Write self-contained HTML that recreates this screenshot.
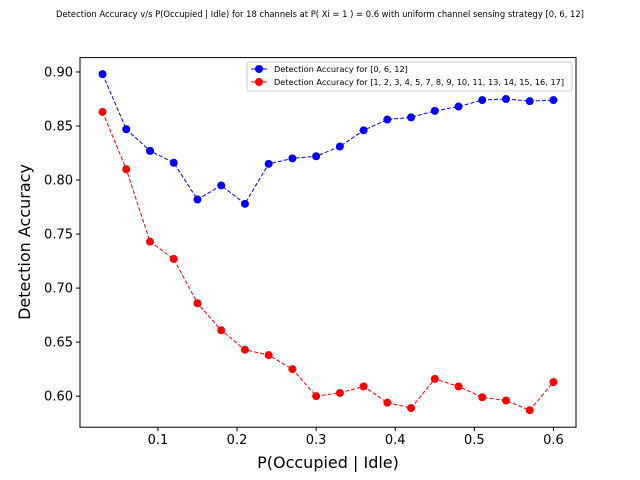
<!DOCTYPE html>
<html><head><meta charset="utf-8"><style>
body{margin:0;background:#fff;}
svg{display:block;font-family:"DejaVu Sans","Liberation Sans",sans-serif;}
</style></head><body>
<svg id="chart" width="640" height="480" viewBox="0 0 640 480">
<text x="320" y="17" font-size="8.4" text-anchor="middle">Detection Accuracy v/s P(Occupied | Idle) for 18 channels at P( Xi = 1 ) = 0.6 with uniform channel sensing strategy [0, 6, 12]</text>
<rect x="80" y="57.6" width="496" height="369.6" fill="none" stroke="#000" stroke-width="1"/>
<g id="xticks"></g><g id="yticks"></g><g id="series"></g>
<text x="328" y="468" font-size="16" text-anchor="middle">P(Occupied | Idle)</text>
<text transform="translate(30,242) rotate(-90)" font-size="16" text-anchor="middle">Detection Accuracy</text>
<g>
<rect x="247" y="62" width="325" height="29" rx="2" fill="#fff" fill-opacity="0.8" stroke="#ccc"/>
<line x1="251" y1="69" x2="267" y2="69" stroke="blue" stroke-dasharray="4,2"/>
<circle cx="259" cy="69" r="4" fill="blue"/>
<text x="274" y="72" font-size="8.2">Detection Accuracy for [0, 6, 12]</text>
<line x1="251" y1="82" x2="267" y2="82" stroke="red" stroke-dasharray="4,2"/>
<circle cx="259" cy="82" r="4" fill="red"/>
<text x="274" y="85" font-size="8.2">Detection Accuracy for [1, 2, 3, 4, 5, 7, 8, 9, 10, 11, 13, 14, 15, 16, 17]</text>
</g>
</svg>
<script>
const xValues=[0.03,0.06,0.09,0.12,0.15,0.18,0.21,0.24,0.27,0.30,0.33,0.36,0.39,0.42,0.45,0.48,0.51,0.54,0.57,0.60];
const blueValues=[0.898,0.847,0.827,0.816,0.782,0.795,0.778,0.815,0.820,0.822,0.831,0.846,0.856,0.858,0.864,0.868,0.874,0.875,0.873,0.874];
const redValues=[0.863,0.810,0.743,0.727,0.686,0.661,0.643,0.638,0.625,0.600,0.603,0.609,0.594,0.589,0.616,0.609,0.599,0.596,0.587,0.613];
const xTickValues=[0.1,0.2,0.3,0.4,0.5,0.6];
const yTickValues=[0.60,0.65,0.70,0.75,0.80,0.85,0.90];
const NS="http://www.w3.org/2000/svg";
const X0=80,X1=576,Y0=427.2,Y1=57.6,xmin=0.0015,xmax=0.6285,ymin=0.5713,ymax=0.9133;
function sx(v){return X0+(v-xmin)/(xmax-xmin)*(X1-X0);}
function sy(v){return Y0-(v-ymin)/(ymax-ymin)*(Y0-Y1);}
function mk(t,a,p){const e=document.createElementNS(NS,t);for(const k in a)e.setAttribute(k,a[k]);p.appendChild(e);return e;}
const xg=document.getElementById('xticks'),yg=document.getElementById('yticks'),sg=document.getElementById('series');
xTickValues.forEach(v=>{
 const l=mk('line',{x1:sx(v),x2:sx(v),y1:Y0,y2:Y0+4,stroke:'#000'},xg);
 
 
 const t=mk('text',{x:sx(v),y:Y0+17,'font-size':13,'text-anchor':'middle'},xg);
 t.textContent=String(v);
 
 
});
yTickValues.forEach(v=>{
 const l=mk('line',{x1:X0-4,x2:X0,y1:sy(v),y2:sy(v),stroke:'#000'},yg);
 
 
 const t=mk('text',{x:X0-7,y:sy(v)+4.5,'font-size':13,'text-anchor':'end'},yg);
 t.textContent=v.toFixed(2);
 
 
});
function series(vals,color,name){
 const pts=vals.map((v,i)=>sx(xValues[i])+','+sy(v)).join(' ');
 const pl=mk('polyline',{points:pts,fill:'none',stroke:color,'stroke-width':1,'stroke-dasharray':'4,2'},sg);
 
 
 vals.forEach((v,i)=>{
  const c=mk('circle',{cx:sx(xValues[i]),cy:sy(v),r:4,fill:color},sg);
  
  
 });
}
series(blueValues,'blue','blue-series');
series(redValues,'red','red-series');
</script>
</body></html>
